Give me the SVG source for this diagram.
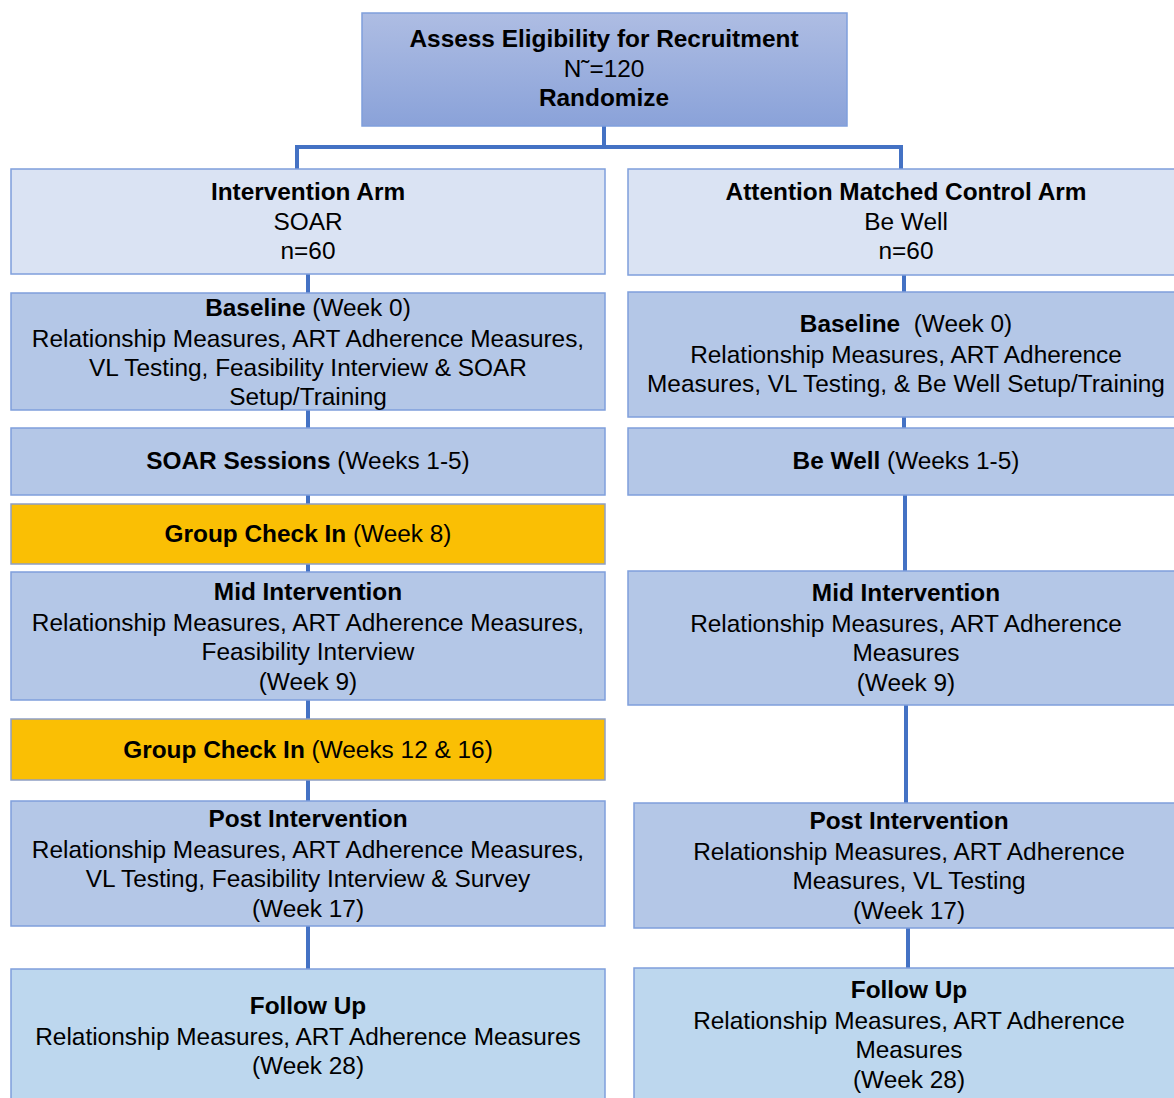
<svg xmlns="http://www.w3.org/2000/svg" width="1174" height="1098" viewBox="0 0 1174 1098">
<defs>
<linearGradient id="topGrad" x1="0" y1="0" x2="0" y2="1">
<stop offset="0" stop-color="#aebde3"/>
<stop offset="1" stop-color="#8aa2d9"/>
</linearGradient>
</defs>
<style>
.box{stroke:#7f9fdc;stroke-width:1.5}
.light{fill:#dae3f3}
.mid{fill:#b4c7e7}
.gold{fill:#fabf04;stroke:#8f9fc4;stroke-width:1.5}
.fu{fill:#bdd7ee}
.conn{stroke:#4472c4;stroke-width:4;fill:none}
text{font-family:"Liberation Sans",Arial,sans-serif;font-size:24.4px;fill:#000;text-anchor:middle}
.b{font-weight:bold}
</style>
<rect width="1174" height="1098" fill="#fff"/>
<g id="connectors">
<polyline class="conn" points="604,126 604,147"/>
<polyline class="conn" points="297,169 297,147 901,147 901,169"/>
<line class="conn" x1="308" y1="274" x2="308" y2="293"/>
<line class="conn" x1="308" y1="410" x2="308" y2="428"/>
<line class="conn" x1="308" y1="495" x2="308" y2="504"/>
<line class="conn" x1="308" y1="564" x2="308" y2="572"/>
<line class="conn" x1="308" y1="700" x2="308" y2="719"/>
<line class="conn" x1="308" y1="780" x2="308" y2="801"/>
<line class="conn" x1="308" y1="926" x2="308" y2="969"/>
<line class="conn" x1="904" y1="275" x2="904" y2="292"/>
<line class="conn" x1="904" y1="417" x2="904" y2="428"/>
<line class="conn" x1="905" y1="495" x2="905" y2="571"/>
<line class="conn" x1="906" y1="705" x2="906" y2="803"/>
<line class="conn" x1="908" y1="928" x2="908" y2="968"/>
</g>
<g id="assess">
<rect class="box" x="362" y="13" width="485" height="113" fill="url(#topGrad)"/>
<text class="b" x="604" y="47">Assess Eligibility for Recruitment</text>
<text x="604" y="77">N˜=120</text>
<text class="b" x="604" y="106">Randomize</text>
</g>
<g id="intervention-arm">
<rect class="box light" x="11" y="169" width="594" height="105"/>
<text class="b" x="308" y="200">Intervention Arm</text>
<text x="308" y="230">SOAR</text>
<text x="308" y="259">n=60</text>
</g>
<g id="int-baseline">
<rect class="box mid" x="11" y="293" width="594" height="117"/>
<text x="308" y="316"><tspan class="b">Baseline</tspan> (Week 0)</text>
<text x="308" y="347">Relationship Measures, ART Adherence Measures,</text>
<text x="308" y="376">VL Testing, Feasibility Interview &amp; SOAR</text>
<text x="308" y="405">Setup/Training</text>
</g>
<g id="soar-sessions">
<rect class="box mid" x="11" y="428" width="594" height="67"/>
<text x="308" y="469"><tspan class="b">SOAR Sessions</tspan> (Weeks 1-5)</text>
</g>
<g id="check-in-8">
<rect class="gold" x="11" y="504" width="594" height="60"/>
<text x="308" y="542"><tspan class="b">Group Check In</tspan> (Week 8)</text>
</g>
<g id="int-mid">
<rect class="box mid" x="11" y="572" width="594" height="128"/>
<text class="b" x="308" y="600">Mid Intervention</text>
<text x="308" y="631">Relationship Measures, ART Adherence Measures,</text>
<text x="308" y="660">Feasibility Interview</text>
<text x="308" y="690">(Week 9)</text>
</g>
<g id="check-in-12-16">
<rect class="gold" x="11" y="719" width="594" height="61"/>
<text x="308" y="758"><tspan class="b">Group Check In</tspan> (Weeks 12 &amp; 16)</text>
</g>
<g id="int-post">
<rect class="box mid" x="11" y="801" width="594" height="125"/>
<text class="b" x="308" y="827">Post Intervention</text>
<text x="308" y="858">Relationship Measures, ART Adherence Measures,</text>
<text x="308" y="887">VL Testing, Feasibility Interview &amp; Survey</text>
<text x="308" y="917">(Week 17)</text>
</g>
<g id="int-followup">
<rect class="box fu" x="11" y="969" width="594" height="140"/>
<text class="b" x="308" y="1014">Follow Up</text>
<text x="308" y="1045">Relationship Measures, ART Adherence Measures</text>
<text x="308" y="1074">(Week 28)</text>
</g>
<g id="control-arm">
<rect class="box light" x="628" y="169" width="560" height="106"/>
<text class="b" x="906" y="200">Attention Matched Control Arm</text>
<text x="906" y="230">Be Well</text>
<text x="906" y="259">n=60</text>
</g>
<g id="ctl-baseline">
<rect class="box mid" x="628" y="292" width="560" height="125"/>
<text x="906" y="332"><tspan class="b">Baseline</tspan>&#160; (Week 0)</text>
<text x="906" y="363">Relationship Measures, ART Adherence</text>
<text x="906" y="392">Measures, VL Testing, &amp; Be Well Setup/Training</text>
</g>
<g id="be-well">
<rect class="box mid" x="628" y="428" width="560" height="67"/>
<text x="906" y="469"><tspan class="b">Be Well</tspan> (Weeks 1-5)</text>
</g>
<g id="ctl-mid">
<rect class="box mid" x="628" y="571" width="560" height="134"/>
<text class="b" x="906" y="601">Mid Intervention</text>
<text x="906" y="632">Relationship Measures, ART Adherence</text>
<text x="906" y="661">Measures</text>
<text x="906" y="691">(Week 9)</text>
</g>
<g id="ctl-post">
<rect class="box mid" x="634" y="803" width="554" height="125"/>
<text class="b" x="909" y="829">Post Intervention</text>
<text x="909" y="860">Relationship Measures, ART Adherence</text>
<text x="909" y="889">Measures, VL Testing</text>
<text x="909" y="919">(Week 17)</text>
</g>
<g id="ctl-followup">
<rect class="box fu" x="634" y="968" width="554" height="140"/>
<text class="b" x="909" y="998">Follow Up</text>
<text x="909" y="1029">Relationship Measures, ART Adherence</text>
<text x="909" y="1058">Measures</text>
<text x="909" y="1088">(Week 28)</text>
</g>
</svg>
